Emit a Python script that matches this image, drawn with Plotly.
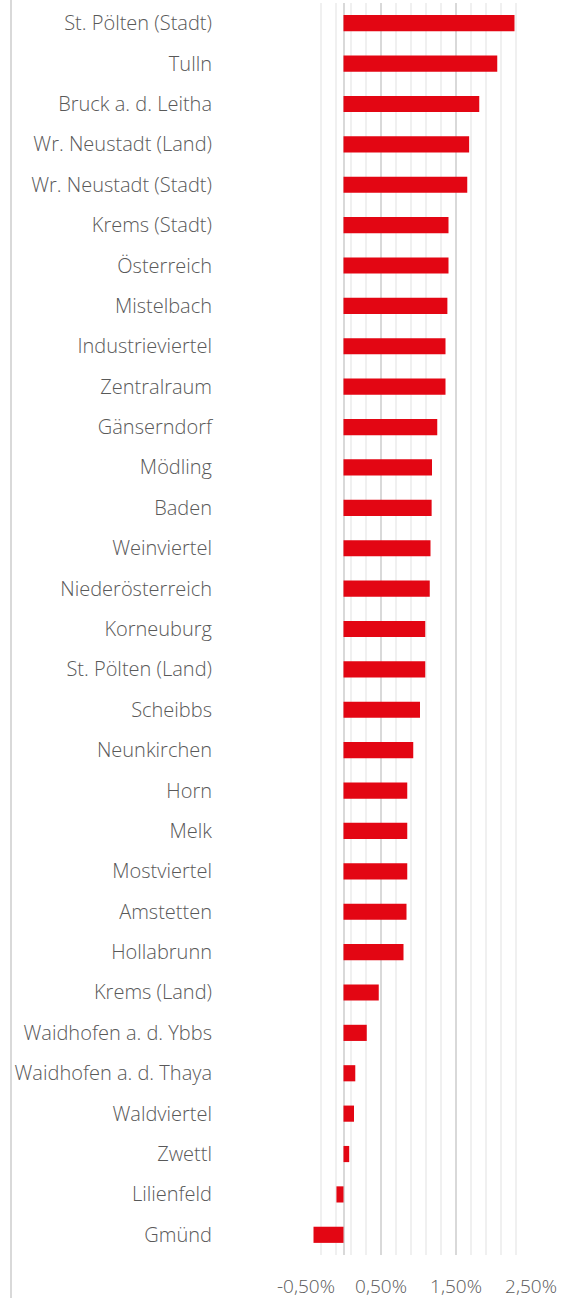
import plotly.graph_objects as go

categories = [
    "St. Pölten (Stadt)", "Tulln", "Bruck a. d. Leitha", "Wr. Neustadt (Land)",
    "Wr. Neustadt (Stadt)", "Krems (Stadt)", "Österreich", "Mistelbach",
    "Industrieviertel", "Zentralraum", "Gänserndorf", "Mödling", "Baden",
    "Weinviertel", "Niederösterreich", "Korneuburg", "St. Pölten (Land)",
    "Scheibbs", "Neunkirchen", "Horn", "Melk", "Mostviertel", "Amstetten",
    "Hollabrunn", "Krems (Land)", "Waidhofen a. d. Ybbs", "Waidhofen a. d. Thaya",
    "Waldviertel", "Zwettl", "Lilienfeld", "Gmünd",
]
values = [
    2.28, 2.05, 1.81, 1.675, 1.65, 1.40, 1.40, 1.385, 1.36, 1.36, 1.25, 1.18,
    1.175, 1.16, 1.15, 1.09, 1.09, 1.02, 0.93, 0.85, 0.85, 0.85, 0.84, 0.80,
    0.47, 0.31, 0.157, 0.14, 0.076, -0.094, -0.40,
]
tick_vals = [-0.5, 0.5, 1.5, 2.5]
tick_text = ["-0,50%", "0,50%", "1,50%", "2,50%"]

W, H = 571, 1298
ml, mr, mt, mb = 306, 40, 3, 43

fig = go.Figure(go.Bar(
    x=values, y=categories, orientation="h",
    marker=dict(color="#E30613", line=dict(width=0)),
    width=0.4,
))

fig.update_layout(
    width=W, height=H,
    margin=dict(l=ml, r=mr, t=mt, b=mb, autoexpand=False),
    paper_bgcolor="white", plot_bgcolor="white",
    showlegend=False,
    font=dict(family="Open Sans", color="#595959", size=19, weight=300),
)
fig.update_xaxes(
    range=[-0.5, 2.5],
    tickmode="array", tickvals=tick_vals, ticktext=tick_text,
    showgrid=True, gridcolor="#d9d9d9", gridwidth=1.5,
    minor=dict(tickmode="linear", tick0=-0.5, dtick=0.2, showgrid=True,
               gridcolor="#f0f0f0", gridwidth=1.5),
    zeroline=True, zerolinecolor="#d9d9d9", zerolinewidth=1.5,
    showline=False, ticks="",
    ticklabelstandoff=18,
    tickfont=dict(size=19, color="#595959", weight=300),
)
fig.update_yaxes(
    autorange="reversed",
    showgrid=False, zeroline=False, showline=False, ticks="",
    ticklabelstandoff=93,
    tickfont=dict(size=20, color="#595959", weight=300),
)

plot_w = W - ml - mr
plot_h = H - mt - mb
fig.add_shape(
    type="line", xref="paper", yref="paper",
    x0=(11 - ml) / plot_w, x1=(11 - ml) / plot_w,
    y0=-mb / plot_h, y1=1 + mt / plot_h,
    line=dict(color="#d9d9d9", width=2),
)

fig.write_html("out.html", config={"displayModeBar": False})
with open("out.html", encoding="utf-8") as f:
    html = f.read()
html = html.replace("<body>", '<body style="margin:0;padding:0;">', 1)
with open("out.html", "w", encoding="utf-8") as f:
    f.write(html)
